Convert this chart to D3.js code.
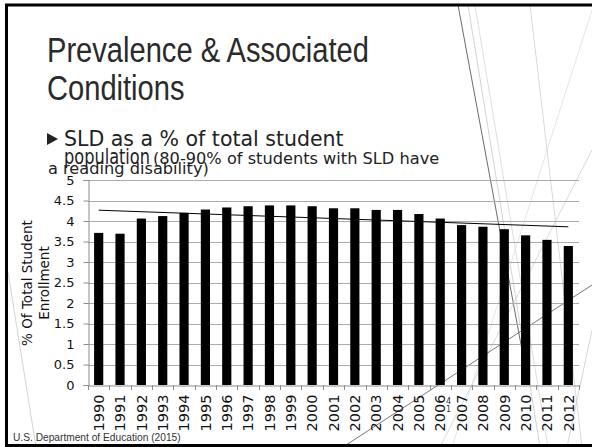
<!DOCTYPE html>
<html>
<head>
<meta charset="utf-8">
<script src="https://cdn.jsdelivr.net/npm/d3@7"></script>
<style>
  body { margin: 0; background: #fff; }
  svg { display: block; }
</style>
</head>
<body>
<div id="slide"></div>
<script>
var w = 592, h = 447;

// Chart data
var years = ["1990", "1991", "1992", "1993", "1994", "1995", "1996", "1997",
  "1998", "1999", "2000", "2001", "2002", "2003", "2004", "2005", "2006",
  "2007", "2008", "2009", "2010", "2011", "2012"];
var values = [3.71, 3.69, 4.06, 4.12, 4.20, 4.28, 4.33, 4.36, 4.38, 4.38, 4.36,
  4.31, 4.31, 4.27, 4.27, 4.17, 4.06, 3.90, 3.86, 3.80, 3.65, 3.54, 3.39];
var yTicks = [0, 0.5, 1, 1.5, 2, 2.5, 3, 3.5, 4, 4.5, 5];
var yTitle = ["% Of Total Student", "Enrollment"];

var plot = {left: 88, right: 579, top: 180, bottom: 385};

var svg = d3.select("#slide")
  .append("svg")
  .attr("width", w)
  .attr("height", h);

// Background theme lines (decoration)
var wisp = [
  [458, 5, 522, 350, "#444"],
  [468, 5, 540, 447, "#c8c8c8"],
  [475, 5, 548, 447, "#d6d6d6"],
  [530, 5, 582, 447, "#cfcfcf"],
  [592, 10, 452, 447, "#dedede"],
  [592, 150, 440, 447, "#d0d0d0"],
  [343, 447, 592, 285, "#555"],
  [567, 447, 592, 330, "#cccccc"],
  [8, 272, 36, 447, "#c8c8c8"]
];
svg.append("g")
  .selectAll("line")
  .data(wisp)
  .enter()
  .append("line")
  .attr("x1", function(d) { return d[0]; })
  .attr("y1", function(d) { return d[1]; })
  .attr("x2", function(d) { return d[2]; })
  .attr("y2", function(d) { return d[3]; })
  .attr("stroke", function(d) { return d[4]; })
  .attr("stroke-width", 0.8);

// Title (narrow face approximated by a horizontal squeeze)
var title = svg.append("text")
  .attr("transform", "translate(47,62) scale(0.82,1)")
  .attr("fill", "#2a2a2a")
  .style("font-family", "'Liberation Sans', Arial, sans-serif")
  .style("font-size", "35.5px");
title.append("tspan").attr("x", 0).attr("y", 0).text("Prevalence & Associated");
title.append("tspan").attr("x", 0).attr("y", 38).text("Conditions");

// Bullet
svg.append("path")
  .attr("d", "M47,133 L58,139 L47,145 Z")
  .attr("fill", "#222");

svg.append("text")
  .attr("x", 64)
  .attr("y", 146)
  .attr("fill", "#222")
  .style("font-family", "'DejaVu Sans', sans-serif")
  .style("font-size", "20.5px")
  .text("SLD as a % of total student");

svg.append("text")
  .attr("x", 64)
  .attr("y", 164)
  .attr("fill", "#222")
  .attr("textLength", 86)
  .attr("lengthAdjust", "spacingAndGlyphs")
  .style("font-family", "'DejaVu Sans', sans-serif")
  .style("font-size", "22px")
  .text("population");

svg.append("text")
  .attr("x", 153)
  .attr("y", 164)
  .attr("fill", "#222")
  .style("font-family", "'DejaVu Sans', sans-serif")
  .style("font-size", "16.2px")
  .text("(80-90% of students with SLD have");

svg.append("text")
  .attr("x", 48)
  .attr("y", 174)
  .attr("fill", "#222")
  .style("font-family", "'DejaVu Sans', sans-serif")
  .style("font-size", "16.2px")
  .text("a reading disability)");

// Scales
var xScale = d3.scaleBand()
  .domain(years)
  .range([plot.left, plot.right])
  .paddingInner(0.57)
  .paddingOuter(0.285);

var yScale = d3.scaleLinear()
  .domain([0, 5])
  .range([plot.bottom, plot.top]);

// Gridlines
svg.append("g")
  .selectAll("line")
  .data(yTicks.slice(1))
  .enter()
  .append("line")
  .attr("x1", plot.left)
  .attr("x2", plot.right)
  .attr("y1", function(d) { return Math.round(yScale(d)) + 0.5; })
  .attr("y2", function(d) { return Math.round(yScale(d)) + 0.5; })
  .attr("stroke", "#ababab")
  .attr("stroke-width", 1.2);

// Bars
svg.append("g")
  .selectAll("rect")
  .data(values)
  .enter()
  .append("rect")
  .attr("x", function(d, i) { return xScale(years[i]); })
  .attr("y", function(d) { return yScale(d); })
  .attr("width", xScale.bandwidth())
  .attr("height", function(d) { return plot.bottom - yScale(d); })
  .attr("fill", "#000");

// Linear trendline (least squares)
var n = values.length;
var mx = (n - 1) / 2, my = d3.mean(values);
var sxy = d3.sum(values, function(v, i) { return (i - mx) * (v - my); });
var sxx = d3.sum(values, function(v, i) { return (i - mx) * (i - mx); });
var slope = sxy / sxx;
var trend = [0, n - 1].map(function(i) { return [i, my + slope * (i - mx)]; });

svg.append("path")
  .datum(trend)
  .attr("fill", "none")
  .attr("stroke", "#000")
  .attr("stroke-width", 1)
  .attr("d", d3.line()
    .x(function(d) { return xScale(years[d[0]]) + xScale.bandwidth() / 2; })
    .y(function(d) { return yScale(d[1]); }));

// Y axis
var yAxis = d3.axisLeft(yScale)
  .tickValues(yTicks)
  .tickFormat(function(d) { return String(d); })
  .tickSize(5)
  .tickPadding(9);

var yG = svg.append("g")
  .attr("transform", "translate(" + (plot.left + 0.5) + ",0)")
  .call(yAxis);
yG.select(".domain").attr("stroke", "#8c8c8c");
yG.selectAll(".tick line").attr("stroke", "#8c8c8c");
yG.selectAll("text")
  .attr("fill", "#111")
  .style("font-family", "'DejaVu Sans', sans-serif")
  .style("font-size", "13px");

// X axis
var xAxis = d3.axisBottom(xScale)
  .tickSize(0)
  .tickSizeOuter(0);

var xG = svg.append("g")
  .attr("transform", "translate(0," + (plot.bottom + 0.5) + ")")
  .call(xAxis);
xG.select(".domain").attr("stroke", "#8c8c8c");
xG.selectAll("text")
  .attr("transform", "rotate(-90)")
  .attr("x", -9)
  .attr("y", 0)
  .attr("dy", "0.36em")
  .attr("text-anchor", "end")
  .attr("fill", "#111")
  .style("font-family", "'DejaVu Sans', sans-serif")
  .style("font-size", "14.5px");

// Category tick marks between bars
var step = xScale.step();
svg.append("g")
  .selectAll("line")
  .data(d3.range(years.length + 1))
  .enter()
  .append("line")
  .attr("x1", function(i) { return Math.round(plot.left + i * step) + 0.5; })
  .attr("x2", function(i) { return Math.round(plot.left + i * step) + 0.5; })
  .attr("y1", plot.bottom)
  .attr("y2", plot.bottom + 5)
  .attr("stroke", "#8c8c8c");

// Y axis title
var yt = svg.append("text")
  .attr("transform", "translate(0," + 283 + ") rotate(-90)")
  .attr("text-anchor", "middle")
  .attr("fill", "#111")
  .style("font-family", "'DejaVu Sans', sans-serif")
  .style("font-size", "13.5px");
yt.append("tspan").attr("x", 0).attr("y", 32).text(yTitle[0]);
yt.append("tspan").attr("x", 0).attr("y", 49).text(yTitle[1]);

// Slide number
var num = svg.append("text")
  .attr("fill", "#333")
  .style("font-family", "'DejaVu Sans', sans-serif")
  .style("font-size", "8px");
num.append("tspan").attr("x", 446).attr("y", 404).text("4");
num.append("tspan").attr("x", 446).attr("y", 412).text("1");

// Footer source
svg.append("text")
  .attr("x", 13)
  .attr("y", 441)
  .attr("fill", "#333")
  .style("font-family", "'Liberation Sans', Arial, sans-serif")
  .style("font-size", "10.2px")
  .text("U.S. Department of Education (2015)");

// Slide border
svg.append("rect")
  .attr("x", 6.5)
  .attr("y", 5)
  .attr("width", 620)
  .attr("height", 440.5)
  .attr("fill", "none")
  .attr("stroke", "#000")
  .attr("stroke-width", 3);
</script>
</body>
</html>
